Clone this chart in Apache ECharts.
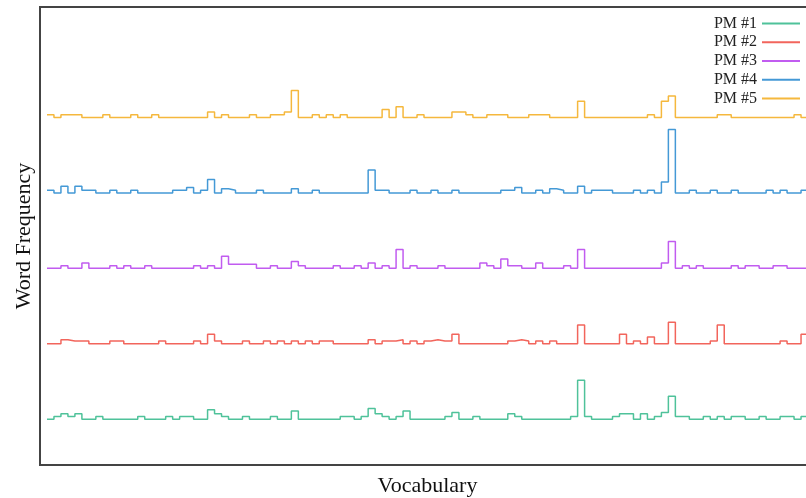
<!DOCTYPE html>
<html>
<head>
<meta charset="utf-8">
<style>
  html, body { margin: 0; padding: 0; background: #fff; }
  #chart { width: 806px; height: 498px; }
</style>
<script src="https://cdn.jsdelivr.net/npm/echarts@6/dist/echarts.min.js"></script>
</head>
<body>
<div id="chart"></div>
<script>
// word counts per vocabulary bin (bins 0..109)
const pm1 = [0,1,2,1,2,0,0,1,0,0, 0,0,0,1,0,0,0,1,0,1, 1,0,0,3.5,2,1,0,0,1,0, 0,0,1,0,0,3,0,0,0,0, 0,0,1,1,0,1,4,2,1,0, 1,3,0,0,0,0,0,1,2.5,0, 0,1,0,0,0,0,2,1,0,0, 0,0,0,0,0,1,14.5,1,0,0, 0,1,2,2,0,2,0,1,2.5,8.5, 1,1,0,0,1,0,1,0,1,1, 0,0,1,0,0,1,1,0,1,0];
const pm2 = [0,0,1.5,1,1,1,0,0,0,1, 1,0,0,0,0,0,1,0,0,0, 0,1,0,3.5,1,0,0,0,1,0, 0,1,0,1,0,1,0,1,0,1, 1,0,0,0,0,0,1.5,0,1,1, 1.5,0,1,0,1,1.5,1,1,3.5,0, 0,0,0,0,0,0,1,1.5,1,0, 1,0,1,0,0,0,7,0,0,0, 0,0,3.5,0,1,0,2.5,0,0,8, 0,0,0,0,0,1,7,0,0,0, 0,0,0,0,0,1,0,0,3.5,3.5];
const pm3 = [0,0,1,0,0,2,0,0,0,1, 0,1,0,0,1,0,0,0,0,0, 0,1,0,1,0,4.5,1.5,1.5,1.5,1.5, 0,0,1,0,0,2.5,1,0,0,0, 0,1,0,0,1,0,2,0,1,0, 7,0,1,0,0,0,1,0,0,0, 0,0,2,1,0,3.5,1,1,0,0, 2,0,0,0,1,0,7,0,0,0, 0,0,0,0,0,0,0,0,2,10, 0,1,0,1,0,0,0,0,1,0, 1,1,0,0,1,1,0,0,0,0];
const pm4 = [1,0,2.5,0,2.5,1,1,0,0,1, 0,0,1,0,0,0,0,0,1,1, 2,0,1,5,0,1.5,1,0,0,0, 1,0,0,0,0,1.5,0,0,1,0, 0,0,0,0,0,0,8.5,1,1,0, 0,0,1,0,0,1,0,0,1,0, 0,0,0,0,0,1,1,2,0,0, 1,0,1.5,1,0,0,2.5,0,1,1, 1,0,0,0,1,0,1,0,4,23.5, 0,0,1,0,0,1,0,0,1,0, 0,0,0,1,0,1,0,0,1,0];
const pm5 = [1,0,1,1,1,0,0,0,1,0, 0,0,1,0,0,1,0,0,0,0, 0,0,0,2,0,1,0,0,0,1, 0,0,1,1,2,10,0,0,1,0, 1,0,1,0,0,0,0,0,3,0, 4,0,0,1,0,0,0,0,2,2, 1,0,0,1,1,1,0,0,0,1, 1,1,0,0,0,0,6,0,0,0, 0,0,0,0,0,0,1,0,6,8, 0,0,0,0,0,0,1,1,0,0, 0,0,0,0,0,0,0,1,0,0];

const names = ['PM #1', 'PM #2', 'PM #3', 'PM #4', 'PM #5'];
const colors = ['#4fc29a', '#f2655c', '#c15cf0', '#4499d6', '#f5b83d'];
const offsets = [0, 28, 56, 84, 112]; // each model stacked one row higher

const myChart = echarts.init(document.getElementById('chart'));

function toSteps(vals, off) {
  const pts = vals.map((v, i) => [i, v + off]);
  pts.push([vals.length, vals[vals.length - 1] + off]); // close last bin
  return pts;
}

const series = [pm1, pm2, pm3, pm4, pm5].map((vals, k) => ({
  name: names[k],
  type: 'line',
  step: 'end',
  symbol: 'none',
  lineStyle: { width: 1.5, color: colors[k] },
  itemStyle: { color: colors[k] },
  data: toSteps(vals, offsets[k]),
}));

const option = {
  animation: false,
  backgroundColor: '#fff',
  grid: {
    left: 40,
    top: 7,
    bottom: 33,
    right: -9,
    show: true,
    borderColor: '#444',
    borderWidth: 2,
    outerBoundsMode: 'none',
  },
  legend: {
    data: names,
    orient: 'vertical',
    right: 6,
    top: 14,
    padding: 0,
    align: 'right',
    icon: 'rect',
    itemWidth: 38,
    itemHeight: 2,
    itemGap: 0,
    textStyle: {
      fontFamily: 'Liberation Serif',
      fontSize: 16,
      lineHeight: 18.8,
      color: '#222',
    },
  },
  xAxis: {
    type: 'value',
    min: -1,
    max: 110,
    name: 'Vocabulary',
    nameLocation: 'middle',
    nameGap: 10,
    nameTextStyle: { fontFamily: 'Liberation Serif', fontSize: 22, color: '#111' },
    axisLine: { show: false },
    axisTick: { show: false },
    axisLabel: { show: false },
    splitLine: { show: false },
  },
  yAxis: {
    type: 'value',
    min: -17,
    max: 153,
    name: 'Word Frequency',
    nameLocation: 'middle',
    nameGap: 5,
    nameTextStyle: { fontFamily: 'Liberation Serif', fontSize: 22, color: '#111' },
    axisLine: { show: false },
    axisTick: { show: false },
    axisLabel: { show: false },
    splitLine: { show: false },
  },
  series,
};

myChart.setOption(option);
</script>
</body>
</html>
